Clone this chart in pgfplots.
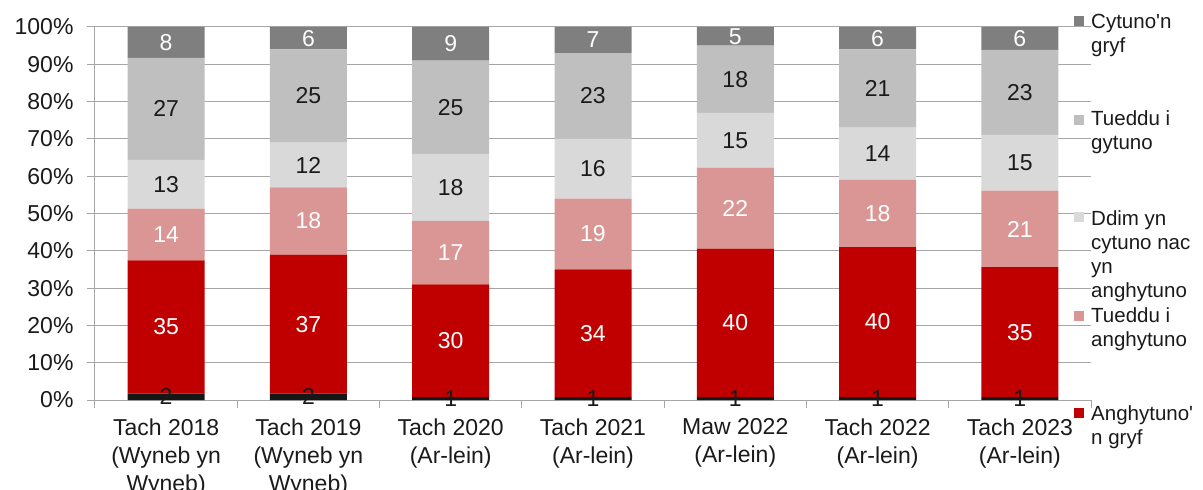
\documentclass[border=0pt]{standalone}
\usepackage{pgfplots}
\pgfplotsset{compat=1.18}
\usepackage{pgfplotstable}
\usepackage{fontspec}
\setmainfont{Liberation Sans}[Ligatures=TeXOff]

\definecolor{cdark}{HTML}{7F7F7F}
\definecolor{cmid}{HTML}{BFBFBF}
\definecolor{clight}{HTML}{D9D9D9}
\definecolor{cpink}{HTML}{DA9694}
\definecolor{cred}{HTML}{C00000}
\definecolor{cblk}{HTML}{161616}
\definecolor{cgrid}{HTML}{A6A6A6}
\definecolor{ctext}{HTML}{1A1A1A}

% segment heights and printed labels (...l), bottom to top
\pgfplotstableread{
idx blk blkl red redl pink pinkl light lightl mid midl dark darkl
0 1.7 2 35.7 35 13.9 14 13.1 13 27.3 27 8.3 8
1 1.7 2 37.3 37 18.0 18 12.0 12 25.0 25 6.0 6
2 0.8 1 30.2 30 17.0 17 18.0 18 25.0 25 9.0 9
3 0.8 1 34.2 34 19.0 19 16.0 16 23.0 23 7.0 7
4 0.8 1 39.8 40 21.7 22 14.7 15 18.0 18 5.0 5
5 0.8 1 40.2 40 18.0 18 14.0 14 21.0 21 6.0 6
6 0.8 1 34.8 35 20.5 21 15.0 15 22.8 23 6.1 6
}\data

\pgfplotsset{
  seg/.style 2 args={
    fill=#1, draw=none,
    nodes near coords, point meta=explicit,
    every node near coord/.append style={text=#2, anchor=center,
      font=\fontsize{23}{27}\selectfont},
  },
}

\begin{document}
\begin{tikzpicture}
\useasboundingbox (-95pt,-90pt) rectangle (1108pt,400pt);
\begin{axis}[
  at={(0pt,0pt)}, anchor=south west,
  scale only axis, width=996pt, height=373pt,
  xmin=-0.5, xmax=6.5, ymin=0, ymax=100,
  ybar stacked, bar width=77pt,
  /pgf/number format/assume math mode=true,
  axis x line*=bottom, axis y line*=left,
  axis line style={cgrid, line width=1pt},
  ymajorgrids, grid style={cgrid, line width=1pt},
  tick align=outside, major tick length=8pt, minor tick length=8pt,
  ytick={0,10,...,100},
  yticklabel={\pgfmathprintnumber{\tick}\%},
  ytick style={cgrid, line width=1pt},
  xtick={0,...,6},
  major x tick style={draw=none},
  minor xtick={-0.5,0.5,...,6.5},
  minor x tick style={cgrid, line width=1pt},
  xticklabels={{Tach 2018\\(Wyneb yn\\Wyneb)},{Tach 2019\\(Wyneb yn\\Wyneb)},
    {Tach 2020\\(Ar-lein)},{Tach 2021\\(Ar-lein)},{Maw 2022\\(Ar-lein)},
    {Tach 2022\\(Ar-lein)},{Tach 2023\\(Ar-lein)}},
  x tick label style={align=center, text=ctext, yshift=-7pt,
    font=\fontsize{23}{28}\selectfont},
  y tick label style={text=ctext, xshift=-10pt, font=\fontsize{23}{27}\selectfont},
  clip=false,
]
\addplot[seg={cblk}{ctext}] table[x=idx, y=blk, meta=blkl] {\data};
\addplot[seg={cred}{white}] table[x=idx, y=red, meta=redl] {\data};
\addplot[seg={cpink}{white}] table[x=idx, y=pink, meta=pinkl] {\data};
\addplot[seg={clight}{ctext}] table[x=idx, y=light, meta=lightl] {\data};
\addplot[seg={cmid}{ctext}] table[x=idx, y=mid, meta=midl] {\data};
\addplot[seg={cdark}{white}] table[x=idx, y=dark, meta=darkl] {\data};
\end{axis}

% legend
\begin{scope}[every node/.style={anchor=north west, inner sep=0pt, align=left,
    text=ctext, font=\fontsize{20.5}{24}\selectfont}]
\fill[cdark]  (979pt,374pt)  rectangle ++(10pt,10pt);
\node at (996pt,386pt) {Cytuno'n\\gryf};
\fill[cmid]   (979pt,275pt)  rectangle ++(10pt,10pt);
\node at (996pt,289.5pt) {Tueddu i\\gytuno};
\fill[clight] (979pt,177.5pt) rectangle ++(10pt,10pt);
\node at (996pt,189.5pt) {Ddim yn\\cytuno nac\\yn\\anghytuno};
\fill[cpink]  (979pt,79pt)   rectangle ++(10pt,10pt);
\node at (996pt,92.5pt) {Tueddu i\\anghytuno};
\fill[cred]   (979pt,-17.5pt) rectangle ++(10pt,10pt);
\node at (996pt,-5.5pt) {Anghytuno'\\n gryf};
\end{scope}
\end{tikzpicture}
\end{document}
